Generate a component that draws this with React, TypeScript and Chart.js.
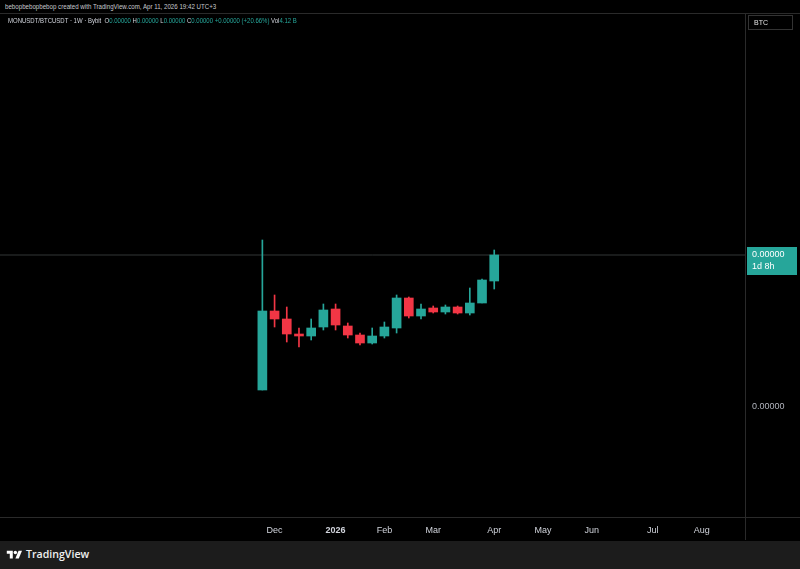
import React, { useEffect, useRef } from 'react';
import { Chart, registerables } from 'chart.js';

Chart.register(...registerables);

// Weekly candles (week start dates), values in units of 1e-8 BTC
const weeks = [
  '2025-11-24', '2025-12-01', '2025-12-08', '2025-12-15', '2025-12-22',
  '2025-12-29', '2026-01-05', '2026-01-12', '2026-01-19', '2026-01-26',
  '2026-02-02', '2026-02-09', '2026-02-16', '2026-02-23', '2026-03-02',
  '2026-03-09', '2026-03-16', '2026-03-23', '2026-03-30', '2026-04-06',
];
const opens = [30.0, 45.8, 44.2, 41.2, 40.8, 42.6, 46.2, 42.8, 41.0, 39.4, 40.8, 42.4, 48.4, 44.8, 46.4, 45.6, 46.6, 45.4, 47.4, 51.8];
const highs = [60.0, 49.0, 46.6, 42.4, 44.2, 47.2, 47.2, 43.4, 41.4, 42.4, 43.6, 49.0, 48.6, 47.2, 46.8, 47.0, 46.8, 50.4, 52.2, 58.0];
const lows = [30.0, 42.6, 39.6, 38.6, 40.0, 42.0, 42.0, 40.4, 39.0, 39.2, 40.4, 41.4, 44.4, 44.2, 45.4, 45.2, 45.2, 45.0, 47.4, 50.2];
const closes = [45.8, 44.2, 41.2, 40.8, 42.4, 46.0, 43.0, 41.0, 39.4, 40.8, 42.6, 48.4, 44.8, 46.2, 45.6, 46.6, 45.4, 47.4, 52.0, 57.0];

const monthTickWeeks = [1, 6, 10, 14, 19, 23, 27, 32, 36];
const monthTickLabels = ['Dec', '2026', 'Feb', 'Mar', 'Apr', 'May', 'Jun', 'Jul', 'Aug'];
const priceTickValues = [26.6];
const priceTickLabels = ['0.00000'];
const lastPriceLabel = '0.00000';
const countdownLabel = '1d 8h';

const UP = '#26a69a';
const DOWN = '#f23645';
const FONT = "'Liberation Sans', Arial, sans-serif";

export default function App() {
  const canvasRef = useRef<HTMLCanvasElement | null>(null);

  useEffect(() => {
    const canvas = canvasRef.current;
    if (!canvas) return;
    const colors = closes.map((c, i) => (c >= opens[i] ? UP : DOWN));
    const idx = weeks.map((_, i) => i);
    const last = closes[closes.length - 1];

    const priceLabelPlugin = {
      id: 'priceLabel',
      afterDraw(chart: any) {
        const ctx = chart.ctx;
        const ys = chart.scales.y;
        const py = ys.getPixelForValue(last);
        const left = chart.chartArea.right + 2;
        ctx.save();
        ctx.fillStyle = UP;
        ctx.fillRect(left, py - 8, 50, 28);
        ctx.fillStyle = '#ffffff';
        ctx.font = `9px ${FONT}`;
        ctx.textBaseline = 'middle';
        ctx.textAlign = 'left';
        ctx.fillText(lastPriceLabel, left + 5, py);
        ctx.fillText(countdownLabel, left + 5, py + 12);
        ctx.restore();
      },
    };

    const chart = new Chart(canvas, {
      type: 'bar',
      data: {
        datasets: [
          {
            type: 'bar',
            label: 'body',
            data: idx.map((i) => ({ x: i, y: [opens[i], closes[i]] })) as any,
            backgroundColor: colors,
            barThickness: 9,
            grouped: false,
            minBarLength: 1,
            borderWidth: 0,
            order: 1,
          } as any,
          {
            type: 'bar',
            label: 'wick',
            data: idx.map((i) => ({ x: i, y: [lows[i], highs[i]] })) as any,
            backgroundColor: colors,
            barThickness: 1,
            grouped: false,
            borderWidth: 0,
            order: 2,
          } as any,
          {
            type: 'line',
            label: 'price line',
            data: [
              { x: -40, y: last },
              { x: 60, y: last },
            ],
            borderColor: 'rgba(100,110,110,0.5)',
            borderWidth: 1,
            pointRadius: 0,
            order: 3,
          } as any,
        ],
      },
      options: {
        animation: false,
        responsive: false,
        devicePixelRatio: 1,
        layout: { padding: 0, autoPadding: false },
        plugins: { legend: { display: false }, tooltip: { enabled: false } },
        scales: {
          x: {
            type: 'linear',
            offset: false,
            min: -21.5,
            max: 39.55,
            grid: { display: false, drawTicks: false, offset: false },
            border: { display: false },
            afterFit: (s: any) => {
              s.height = 23;
              s.paddingLeft = 0;
              s.paddingRight = 0;
            },
            afterBuildTicks: (s: any) => {
              s.ticks = monthTickWeeks.map((v) => ({ value: v }));
            },
            ticks: {
              autoSkip: false,
              maxRotation: 0,
              padding: 8,
              color: '#d1d4dc',
              font: (c: any) => ({
                family: FONT,
                size: 9,
                weight: c.tick && c.tick.value === 6 ? 'bold' : 'normal',
              }),
              callback: (v: any) => {
                const k = monthTickWeeks.indexOf(Number(v));
                return k >= 0 ? monthTickLabels[k] : '';
              },
            },
          },
          y: {
            type: 'linear',
            position: 'right',
            min: 4.6,
            max: 105.2,
            grid: { display: false, drawTicks: false },
            border: { display: false },
            afterFit: (s: any) => {
              s.width = 55;
              s.paddingTop = 0;
              s.paddingBottom = 0;
            },
            afterBuildTicks: (s: any) => {
              s.ticks = priceTickValues.map((v) => ({ value: v }));
            },
            ticks: {
              padding: 7,
              color: '#b2b5be',
              font: { family: FONT, size: 9 },
              callback: (v: any) => {
                const k = priceTickValues.indexOf(Number(v));
                return k >= 0 ? priceTickLabels[k] : '';
              },
            },
          },
        },
      },
      plugins: [priceLabelPlugin],
    } as any);

    return () => chart.destroy();
  }, []);

  const line = '#2a2a2a';
  return (
    <div
      style={{
        position: 'fixed',
        left: 0,
        top: 0,
        width: 800,
        height: 569,
        background: '#000',
        overflow: 'hidden',
        fontFamily: FONT,
      }}
    >
      <div
        style={{
          position: 'absolute',
          left: 5,
          top: 2,
          fontSize: 8,
          color: '#c8cacf',
          whiteSpace: 'nowrap',
          transform: 'scaleX(0.77)',
          transformOrigin: 'left top',
        }}
      >
        bebopbebopbebop created with TradingView.com, Apr 11, 2026 19:42 UTC+3
      </div>
      <div style={{ position: 'absolute', left: 0, top: 13, width: 800, height: 1, background: line }} />
      <canvas
        ref={canvasRef}
        width={800}
        height={526}
        style={{ position: 'absolute', left: 0, top: 14, width: 800, height: 526 }}
      />
      <div
        style={{
          position: 'absolute',
          left: 8,
          top: 16,
          fontSize: 7.5,
          color: '#d1d4dc',
          whiteSpace: 'nowrap',
          transform: 'scaleX(0.8)',
          transformOrigin: 'left top',
        }}
      >
        MONUSDT/BTCUSDT · 1W · Bybit&nbsp;&nbsp;O<span style={{ color: UP }}>0.00000</span>&nbsp;H
        <span style={{ color: UP }}>0.00000</span>&nbsp;L<span style={{ color: UP }}>0.00000</span>&nbsp;C
        <span style={{ color: UP }}>0.00000</span>&nbsp;<span style={{ color: UP }}>+0.00000 (+20.66%)</span>
        &nbsp;Vol<span style={{ color: UP }}>4.12 B</span>
      </div>
      <div style={{ position: 'absolute', left: 745, top: 13, width: 1, height: 527, background: line }} />
      <div style={{ position: 'absolute', left: 0, top: 517, width: 800, height: 1, background: line }} />
      <div
        style={{
          position: 'absolute',
          left: 748,
          top: 15,
          width: 45,
          height: 15,
          border: '1px solid #333',
          boxSizing: 'border-box',
          fontSize: 7,
          color: '#e0e0e0',
          lineHeight: '13px',
          paddingLeft: 5,
        }}
      >
        BTC
      </div>
      <div
        style={{
          position: 'absolute',
          left: 0,
          top: 541,
          width: 800,
          height: 28,
          background: '#1c1c1c',
        }}
      >
        <svg
          width="17"
          height="12"
          viewBox="0 0 36 28"
          style={{ position: 'absolute', left: 6, top: 8 }}
        >
          <path d="M14 22H7V11H0V4h14v18z" fill="#fff" />
          <circle cx="20" cy="8" r="4" fill="#fff" />
          <path d="M28 22h-8l7.5-18h8L28 22z" fill="#fff" />
        </svg>
        <div
          style={{
            position: 'absolute',
            left: 26,
            top: 6,
            fontSize: 10.6,
            fontWeight: 600,
            color: '#f0f0f0',
            fontFamily: "'Open Sans', 'Liberation Sans', Arial, sans-serif",
          }}
        >
          TradingView
        </div>
      </div>
    </div>
  );
}
